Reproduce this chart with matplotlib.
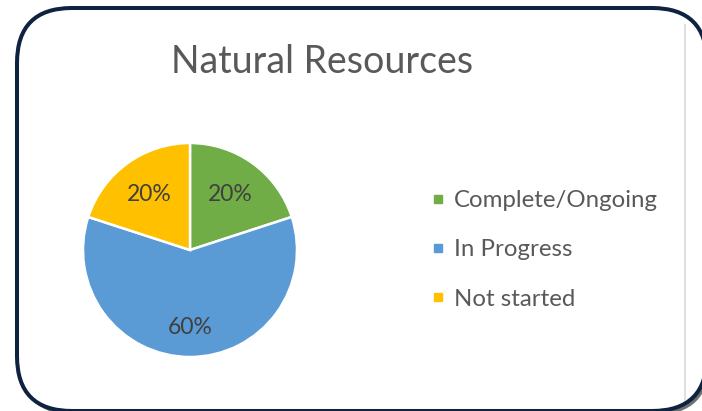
import matplotlib
matplotlib.use("Agg")
import matplotlib.pyplot as plt
from matplotlib.patches import FancyBboxPatch
from matplotlib.lines import Line2D
import numpy as np

# chart data
title = "Natural Resources"
categories = ["Complete/Ongoing", "In Progress", "Not started"]
shares = [20, 60, 20]
colors = ["#70AD47", "#5B9BD5", "#FFC000"]

plt.rcParams['font.family'] = ['Lato', 'DejaVu Sans']

W, H = 702, 411
fig = plt.figure(figsize=(W / 100, H / 100), dpi=100)
fig.patch.set_facecolor("white")

# background axes in pixel units (y down)
bg = fig.add_axes([0, 0, 1, 1])
bg.set_xlim(0, W)
bg.set_ylim(H, 0)
bg.axis("off")

shadow = FancyBboxPatch((20, 12), 690, 403, boxstyle="round,pad=0,rounding_size=55",
                        facecolor="#707070", edgecolor="none", zorder=1)
bg.add_patch(shadow)
frame = FancyBboxPatch((17, 8), 690, 403, boxstyle="round,pad=0,rounding_size=55",
                       facecolor="white", edgecolor="#0F2341", linewidth=2.9, zorder=2)
bg.add_patch(frame)
bg.plot([685, 685], [25, 400], color="#d9d9d9", linewidth=1.2, zorder=3)

bg.text(322, 62, title, fontsize=27, color="#595959", ha="center", va="center", zorder=4)

# pie
cx, cy, r = 190, 250, 107
ax = fig.add_axes([(cx - r) / W, (H - cy - r) / H, 2 * r / W, 2 * r / H])
wedges, texts, autotexts = ax.pie(
    shares, colors=colors, startangle=90, counterclock=False,
    autopct=lambda p: f"{p:.0f}%", pctdistance=0.64,
    wedgeprops=dict(edgecolor="white", linewidth=1.8),
    textprops=dict(fontsize=16.5, color="#404040"))
ax.set_xlim(-1, 1)
ax.set_ylim(-1, 1)

# excel-style best-fit label distances
label_dist = [0.64, 0.72, 0.64]
for w, t, d in zip(wedges, autotexts, label_dist):
    ang = np.deg2rad((w.theta1 + w.theta2) / 2)
    t.set_position((d * np.cos(ang), d * np.sin(ang)))

handles = [Line2D([], [], linestyle="none", marker="s", markersize=6,
                  markerfacecolor=c, markeredgecolor=c) for c in colors]
fig.legend(handles, categories, loc="center left",
           bbox_to_anchor=(431 / W, (H - 250) / H), frameon=False,
           fontsize=17.3, labelcolor="#595959", handlelength=0.55,
           handletextpad=0.4, labelspacing=1.18, borderpad=0, borderaxespad=0)

fig.savefig("out.png", dpi=100)
